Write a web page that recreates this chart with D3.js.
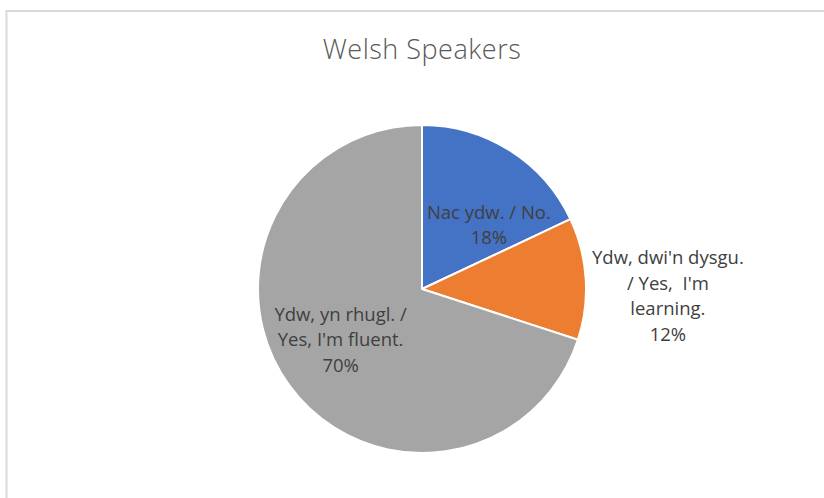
<!DOCTYPE html>
<html>
<head>
<meta charset="utf-8">
<script src="https://cdn.jsdelivr.net/npm/d3@7"></script>
<style>
  body { margin: 0; background: #fff; }
  text { font-family: "Open Sans", "Noto Sans", sans-serif; white-space: pre; }
</style>
</head>
<body>
<div id="chart"></div>
<script>
// data
let categories = ["Nac ydw. / No.", "Ydw, dwi'n dysgu. / Yes,  I'm learning.", "Ydw, yn rhugl. / Yes, I'm fluent."];
let values = [18, 12, 70];
let labelLines = [
    ["Nac ydw. / No."],
    ["Ydw, dwi'n dysgu.", "/ Yes,  I'm", "learning."],
    ["Ydw, yn rhugl. /", "Yes, I'm fluent."]
];
let colors = ["#4472C4", "#ED7D31", "#A5A5A5"];

let w = 824, h = 498;
let cx = 422, cy = 289, r = 164;
// label placement: distance from the centre and a small turn off the slice middle (degrees)
let labelRadius = [92.5, 246, 96];
let labelTurn = [13.9, 5.2, 4];
let lineH = 25.5;

let svg = d3.select("#chart")
    .append("svg")
    .attr("width", w)
    .attr("height", h);

// chart border
svg.append("rect")
    .attr("x", 6.5)
    .attr("y", 11)
    .attr("width", w + 20)
    .attr("height", h + 20)
    .attr("fill", "none")
    .attr("stroke", "#d9d9d9")
    .attr("stroke-width", 2);

svg.append("text")
    .attr("x", cx)
    .attr("y", 59)
    .attr("text-anchor", "middle")
    .attr("fill", "#595959")
    .attr("font-size", 27)
    .attr("font-weight", 300)
    .attr("letter-spacing", 0.5)
    .text("Welsh Speakers");

let pie = d3.pie().sort(null).value((d) => d);
let arcs = pie(values);

let arc = d3.arc().innerRadius(0).outerRadius(r);

let g = svg.append("g").attr("transform", `translate(${cx},${cy})`);

g.selectAll("path")
    .data(arcs)
    .enter()
    .append("path")
    .attr("d", arc)
    .attr("fill", (d, i) => colors[i])
    .attr("stroke", "#fff")
    .attr("stroke-width", 2)
    .attr("stroke-linejoin", "round");

// labels
arcs.forEach((d, i) => {
    let mid = (d.startAngle + d.endAngle) / 2 + labelTurn[i] * Math.PI / 180;
    let lr = labelRadius[i];
    let x = Math.sin(mid) * lr;
    let y = -Math.cos(mid) * lr;
    let lines = labelLines[i].concat([d3.format(".0%")(values[i] / d3.sum(values))]);
    let top = y - (lines.length - 1) * lineH / 2;
    let t = g.append("text")
        .attr("text-anchor", "middle")
        .attr("fill", "#404040")
        .attr("font-size", 18.5);
    lines.forEach((s, k) => {
        t.append("tspan")
            .attr("x", x)
            .attr("y", top + k * lineH)
            .attr("dy", "0.35em")
            .text(s);
    });
});
</script>
</body>
</html>
